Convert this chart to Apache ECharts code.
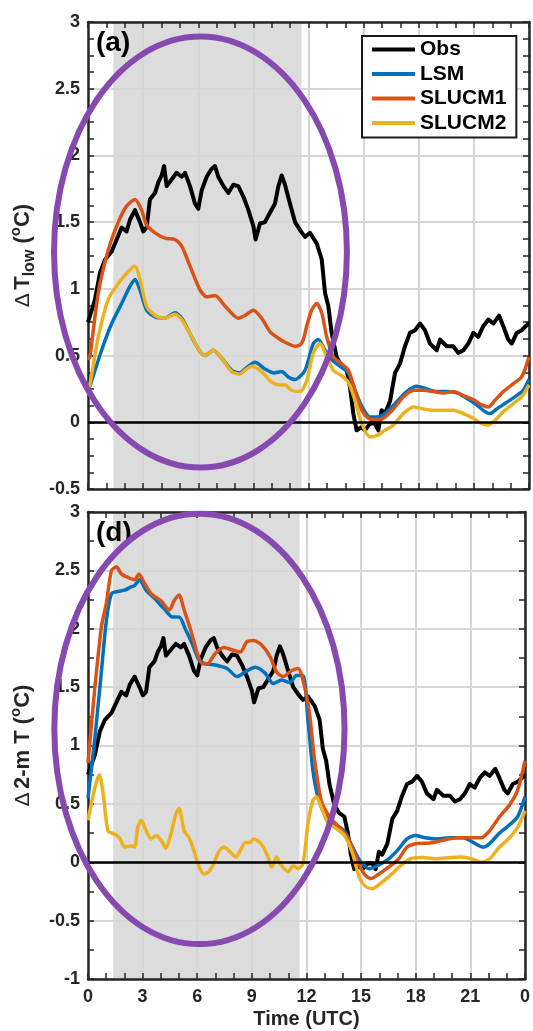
<!DOCTYPE html>
<html>
<head>
<meta charset="utf-8">
<script src="https://cdn.jsdelivr.net/npm/echarts@6/dist/echarts.min.js"></script>
<style>
  html, body { margin: 0; padding: 0; background: #ffffff; }
  #chart { position: absolute; left: 0; top: 0; width: 533px; height: 1031px; }
</style>
</head>
<body>
<div id="chart"></div>
<script>
// Hour-of-day ticks shown under the lower panel (24 h wraps to 0)
const hourTicks = [0, 3, 6, 9, 12, 15, 18, 21, 24];
const seriesNames = ['Obs', 'LSM', 'SLUCM1', 'SLUCM2'];

// Observed urban-rural difference, [hour UTC, °C]
const obs = [[0,0.75],[0.1,0.75],[0.38,0.92],[0.65,1.12],[0.93,1.22],[1.29,1.28],[1.56,1.37],[1.83,1.46],[2.1,1.43],[2.29,1.52],[2.56,1.59],[2.83,1.50],[3.01,1.43],[3.19,1.46],[3.37,1.67],[3.65,1.72],[3.83,1.80],[4.01,1.85],[4.14,1.92],[4.28,1.77],[4.55,1.82],[4.82,1.87],[5.1,1.84],[5.28,1.87],[5.55,1.77],[5.82,1.64],[6.0,1.60],[6.19,1.74],[6.46,1.84],[6.73,1.90],[6.91,1.92],[7.09,1.84],[7.37,1.77],[7.64,1.72],[7.91,1.78],[8.18,1.77],[8.46,1.69],[8.73,1.59],[9.0,1.47],[9.12,1.37],[9.36,1.49],[9.63,1.50],[9.9,1.57],[10.18,1.64],[10.36,1.77],[10.54,1.85],[10.72,1.78],[10.99,1.64],[11.27,1.50],[11.54,1.44],[11.81,1.39],[12.08,1.42],[12.17,1.43],[12.45,1.34],[12.72,1.22],[12.9,0.97],[13.08,0.87],[13.26,0.67],[13.53,0.49],[13.8,0.42],[14.08,0.39],[14.26,0.26],[14.44,0.065],[14.62,-0.06],[14.9,-0.035],[15.07,-0.06],[15.35,-0.01],[15.62,-0.01],[15.8,-0.06],[15.98,0.09],[16.16,0.065],[16.44,0.16],[16.71,0.37],[16.98,0.44],[17.25,0.57],[17.52,0.67],[17.8,0.69],[18.07,0.74],[18.34,0.69],[18.61,0.59],[18.98,0.54],[19.16,0.62],[19.52,0.57],[19.88,0.57],[20.15,0.52],[20.43,0.54],[20.7,0.59],[20.97,0.67],[21.24,0.64],[21.51,0.72],[21.79,0.77],[22.06,0.74],[22.37,0.80],[22.6,0.72],[22.87,0.62],[23.06,0.59],[23.33,0.67],[23.6,0.69],[23.96,0.74],[24,0.74]];

// Panel (a): lowest-model-level temperature difference
const lsmLow = [[0,0.25],[0.1,0.27],[0.74,0.54],[1.29,0.74],[1.83,0.89],[2.29,1.02],[2.56,1.07],[2.83,0.99],[3.19,0.84],[3.65,0.79],[4.19,0.78],[4.73,0.82],[5.1,0.78],[5.64,0.64],[6.1,0.53],[6.37,0.50],[6.82,0.54],[7.28,0.48],[7.82,0.39],[8.27,0.37],[8.54,0.40],[9.09,0.45],[9.63,0.40],[10.09,0.37],[10.54,0.38],[10.9,0.34],[11.27,0.32],[11.72,0.37],[11.9,0.42],[12.26,0.59],[12.53,0.62],[12.9,0.54],[13.26,0.47],[13.71,0.42],[14.17,0.37],[14.53,0.24],[14.9,0.12],[15.35,0.04],[15.71,0.04],[16.16,0.065],[16.71,0.14],[17.34,0.23],[17.89,0.27],[18.43,0.25],[18.98,0.23],[19.52,0.23],[20.07,0.22],[20.61,0.18],[21.15,0.13],[21.6,0.08],[21.88,0.065],[22.24,0.10],[22.79,0.15],[23.33,0.20],[23.69,0.24],[24,0.32]];
const ucm1Low = [[0,0.47],[0.1,0.49],[0.56,0.97],[1.1,1.29],[1.65,1.50],[2.1,1.62],[2.56,1.67],[2.92,1.59],[3.19,1.48],[3.65,1.42],[4.19,1.38],[4.73,1.37],[5.1,1.32],[5.55,1.17],[6.1,0.99],[6.46,0.94],[6.91,0.95],[7.46,0.87],[8.18,0.78],[8.54,0.80],[9.0,0.84],[9.45,0.78],[9.9,0.68],[10.36,0.63],[10.72,0.60],[11.27,0.57],[11.54,0.58],[11.72,0.62],[11.9,0.72],[12.17,0.84],[12.45,0.89],[12.72,0.82],[12.99,0.64],[13.35,0.49],[13.8,0.44],[14.17,0.39],[14.53,0.24],[14.9,0.09],[15.26,0.03],[15.71,0.015],[16.07,0.03],[16.62,0.10],[17.16,0.19],[17.71,0.24],[18.25,0.24],[18.8,0.23],[19.34,0.22],[19.88,0.23],[20.43,0.20],[20.97,0.17],[21.42,0.13],[21.79,0.115],[22.15,0.165],[22.6,0.23],[23.15,0.29],[23.6,0.34],[24,0.49]];
const ucm2Low = [[0,0.25],[0.1,0.28],[0.56,0.64],[1.1,0.92],[1.65,1.04],[2.19,1.13],[2.56,1.17],[2.83,1.07],[3.19,0.87],[3.65,0.80],[4.19,0.78],[4.73,0.81],[5.1,0.77],[5.64,0.64],[6.1,0.53],[6.37,0.50],[6.82,0.54],[7.28,0.48],[7.82,0.38],[8.27,0.36],[8.54,0.39],[8.91,0.42],[9.45,0.38],[10.0,0.30],[10.45,0.28],[10.72,0.28],[11.08,0.24],[11.54,0.23],[11.9,0.31],[12.26,0.52],[12.63,0.59],[12.99,0.49],[13.35,0.39],[13.8,0.35],[14.17,0.30],[14.53,0.165],[14.9,-0.01],[15.35,-0.11],[15.71,-0.10],[16.16,-0.06],[16.62,-0.02],[17.16,0.065],[17.71,0.115],[18.25,0.10],[18.8,0.09],[19.34,0.09],[19.88,0.09],[20.43,0.065],[20.97,0.03],[21.42,-0.01],[21.79,-0.02],[22.15,0.015],[22.6,0.08],[23.15,0.14],[23.6,0.19],[24,0.28]];

// Panel (d): 2-m temperature difference
const lsm2m = [[0,0.55],[0.38,1.07],[0.74,1.64],[1.01,2.07],[1.29,2.30],[1.65,2.32],[2.01,2.33],[2.38,2.36],[2.56,2.37],[2.83,2.42],[3.19,2.33],[3.65,2.26],[4.19,2.17],[4.64,2.10],[5.0,2.10],[5.37,1.99],[5.73,1.87],[6.1,1.73],[6.46,1.70],[7.0,1.69],[7.64,1.66],[8.18,1.59],[8.73,1.64],[9.18,1.67],[9.73,1.62],[10.18,1.53],[10.63,1.56],[11.08,1.54],[11.45,1.60],[11.81,1.60],[12.08,1.22],[12.35,0.79],[12.63,0.56],[12.99,0.42],[13.53,0.33],[14.08,0.27],[14.53,0.13],[14.99,0.0],[15.44,-0.055],[15.89,-0.03],[16.44,0.02],[16.98,0.10],[17.52,0.20],[17.98,0.23],[18.52,0.21],[19.16,0.20],[19.88,0.21],[20.61,0.21],[21.15,0.17],[21.7,0.13],[22.06,0.16],[22.6,0.25],[23.15,0.32],[23.6,0.39],[24,0.56]];
const ucm1_2m = [[0,0.85],[0.38,1.50],[0.74,2.02],[1.01,2.22],[1.29,2.50],[1.56,2.53],[1.83,2.47],[2.19,2.44],[2.56,2.42],[2.8,2.47],[3.1,2.39],[3.47,2.30],[4.01,2.24],[4.46,2.16],[4.73,2.24],[5.0,2.29],[5.28,2.16],[5.64,1.99],[6.0,1.79],[6.28,1.70],[6.55,1.70],[7.0,1.79],[7.46,1.84],[7.91,1.82],[8.36,1.80],[8.73,1.89],[9.09,1.90],[9.54,1.86],[10.0,1.76],[10.36,1.63],[10.72,1.59],[11.17,1.64],[11.54,1.66],[11.9,1.50],[12.17,1.27],[12.45,0.87],[12.81,0.53],[13.26,0.39],[13.8,0.30],[14.26,0.21],[14.71,0.045],[15.17,-0.10],[15.53,-0.14],[15.98,-0.10],[16.53,-0.04],[17.07,0.03],[17.52,0.13],[18.07,0.16],[18.8,0.165],[19.52,0.19],[20.24,0.21],[20.97,0.21],[21.6,0.21],[22.06,0.27],[22.6,0.39],[23.15,0.49],[23.6,0.62],[24,0.87]];
const ucm2_2m = [[0,0.36],[0.38,0.64],[0.62,0.75],[0.83,0.59],[1.1,0.27],[1.47,0.24],[1.74,0.21],[2.01,0.13],[2.38,0.14],[2.56,0.13],[2.74,0.30],[2.92,0.36],[3.19,0.27],[3.47,0.20],[3.74,0.23],[4.01,0.19],[4.28,0.12],[4.55,0.24],[4.82,0.41],[5.0,0.46],[5.28,0.27],[5.55,0.21],[5.82,0.10],[6.1,-0.04],[6.37,-0.10],[6.64,-0.08],[6.91,-0.01],[7.18,0.09],[7.46,0.13],[7.73,0.10],[8.13,0.045],[8.36,0.10],[8.64,0.17],[8.91,0.17],[9.09,0.20],[9.36,0.18],[9.63,0.13],[9.87,0.05],[10.09,-0.04],[10.36,0.045],[10.54,-0.01],[10.99,-0.08],[11.27,-0.03],[11.54,-0.055],[11.81,-0.01],[12.08,0.33],[12.35,0.53],[12.54,0.56],[12.81,0.47],[13.17,0.34],[13.62,0.29],[14.08,0.23],[14.53,0.075],[14.9,-0.13],[15.26,-0.21],[15.62,-0.225],[16.07,-0.18],[16.62,-0.11],[17.16,-0.03],[17.71,0.03],[18.43,0.04],[19.16,0.03],[19.88,0.04],[20.52,0.045],[21.06,0.03],[21.6,0.0],[22.06,0.03],[22.6,0.13],[23.15,0.21],[23.6,0.30],[24,0.44]];

// Daytime shading (hours UTC)
const daylight = [1.38, 11.62];
// Highlight ellipses in data units: centre hour, centre value, half-width (h), half-height (°C)
const ringTop = [6.12, 1.276, 7.97, 1.615];
const ringBottom = [6.12, 1.142, 7.97, 1.843];

const FONT = '"Liberation Sans", Arial, Helvetica, sans-serif';
const INK = '#262626';
const COLORS = { Obs: '#000000', LSM: '#0072BD', SLUCM1: '#D95319', SLUCM2: '#EDB120' };

const chart = echarts.init(document.getElementById('chart'), null, { renderer: 'canvas' });

const tickStyle = { color: INK, width: 1.5 };

function xAxes(gridIndex, showLabels, withName) {
  const common = {
    type: 'value', gridIndex, min: 0, max: 24, interval: 3, z: 2,
    axisLine: { show: true, onZero: false, lineStyle: { color: INK, width: 2.5 } },
    axisTick: { show: true, inside: true, length: 6, lineStyle: tickStyle },
    minorTick: { show: true, splitNumber: 3, length: 6, lineStyle: tickStyle },
  };
  return [
    Object.assign({}, common, {
      position: 'bottom',
      splitLine: { show: true, lineStyle: { color: '#d6d6d6', width: 2 } },
      axisLabel: {
        show: showLabels, margin: 9, color: INK, fontSize: 18, fontWeight: 'bold', fontFamily: FONT,
        formatter: v => hourTicks.includes(v) ? String(v % 24) : ''
      },
      name: withName ? 'Time (UTC)' : '',
      nameLocation: 'middle', nameGap: 30,
      nameTextStyle: { color: INK, fontSize: 20, fontWeight: 'bold', fontFamily: FONT }
    }),
    Object.assign({}, common, {
      position: 'top', splitLine: { show: false }, axisLabel: { show: false }
    })
  ];
}

function yAxes(gridIndex, min, minorSplit, nameRich) {
  const common = {
    type: 'value', gridIndex, min, max: 3, interval: 0.5, z: 2,
    axisLine: { show: true, onZero: false, lineStyle: { color: INK, width: 2.5 } },
    axisTick: { show: true, inside: true, length: 6, lineStyle: tickStyle },
    minorTick: { show: true, splitNumber: minorSplit, length: 6, lineStyle: tickStyle },
  };
  const rich = {
    d: { fontSize: 21, fontWeight: 'normal', fontFamily: FONT, color: INK, lineHeight: 30 },
    b: { fontSize: 22, fontWeight: 'bold', fontFamily: FONT, color: INK, lineHeight: 30 },
    s: { fontSize: 16, fontWeight: 'bold', fontFamily: FONT, color: INK, lineHeight: 15, verticalAlign: 'bottom' },
    p: { fontSize: 15, fontWeight: 'bold', fontFamily: FONT, color: INK, lineHeight: 14, verticalAlign: 'top' }
  };
  return [
    Object.assign({}, common, {
      position: 'left',
      splitLine: { show: true, lineStyle: { color: '#d6d6d6', width: 2 } },
      axisLabel: { show: true, margin: 8, color: INK, fontSize: 18, fontWeight: 'bold', fontFamily: FONT },
      name: nameRich, nameLocation: 'middle', nameRotate: 90, nameGap: 50,
      nameTextStyle: { rich }
    }),
    Object.assign({}, common, {
      position: 'right', splitLine: { show: false }, axisLabel: { show: false }
    })
  ];
}

function panelSeries(xi, yi, data) {
  const out = [];
  // daytime band
  out.push({
    name: 'day' + xi, type: 'line', data: [], xAxisIndex: xi, yAxisIndex: yi, z: 1, silent: true,
    markArea: {
      silent: true, itemStyle: { color: '#dcdcdc' },
      data: [[{ xAxis: daylight[0] }, { xAxis: daylight[1] }]]
    }
  });
  // zero reference line
  out.push({
    name: 'zero' + xi, type: 'line', data: [], xAxisIndex: xi, yAxisIndex: yi, z: 3, silent: true,
    markLine: {
      silent: true, symbol: ['none', 'none'], label: { show: false },
      lineStyle: { color: '#000', width: 2.5, type: 'solid' },
      data: [{ yAxis: 0 }]
    }
  });
  seriesNames.forEach((n, i) => {
    out.push({
      name: n, type: 'line', data: data[i], xAxisIndex: xi, yAxisIndex: yi, z: 4,
      showSymbol: false, symbol: 'none', smooth: n === 'Obs' ? false : 0.25,
      color: COLORS[n],
      lineStyle: { color: COLORS[n], width: n === 'Obs' ? 4 : 3.5, join: 'round' }
    });
  });
  return out;
}

const option = {
  animation: false,
  backgroundColor: '#ffffff',
  grid: [
    { left: 88, top: 22, width: 441, height: 467, containLabel: false },
    { left: 88, top: 512, width: 441, height: 467, containLabel: false }
  ],
  xAxis: [].concat(xAxes(0, false, false), xAxes(1, true, true)),
  yAxis: [].concat(
    yAxes(0, -0.5, 4, '{d|Δ} {b|T}{s|low}{b| (}{p|o}{b|C)}'),
    yAxes(1, -1, 2, '{d|Δ} {b|2-m T (}{p|o}{b|C)}')
  ),
  legend: {
    data: seriesNames, left: 362, top: 36, orient: 'vertical',
    icon: 'rect', itemWidth: 43, itemHeight: 4, itemGap: 3.5,
    padding: [3, 10, 4, 10],
    backgroundColor: '#ffffff', borderColor: '#1a1a1a', borderWidth: 2, borderRadius: 0,
    textStyle: { fontSize: 21, fontWeight: 'bold', color: '#000', fontFamily: FONT },
    z: 10, selectedMode: false
  },
  series: [].concat(
    panelSeries(0, 0, [obs, lsmLow, ucm1Low, ucm2Low]),
    panelSeries(2, 2, [obs, lsm2m, ucm1_2m, ucm2_2m])
  )
};

chart.setOption(option);

function ringShape(gridIndex, ring) {
  const c = chart.convertToPixel({ gridIndex }, [ring[0], ring[1]]);
  const e = chart.convertToPixel({ gridIndex }, [ring[0] + ring[2], ring[1] + ring[3]]);
  return { cx: c[0], cy: c[1], rx: Math.abs(e[0] - c[0]), ry: Math.abs(c[1] - e[1]) };
}

const ringStyle = { fill: 'none', stroke: '#8649b0', lineWidth: 6 };
chart.setOption({
  graphic: [
    { type: 'ellipse', shape: ringShape(0, ringTop), style: ringStyle, z: 100, silent: true },
    { type: 'ellipse', shape: ringShape(1, ringBottom), style: ringStyle, z: 100, silent: true },
    { type: 'text', left: 96, top: 29, z: 20, style: { text: '(a)', font: 'bold 28px ' + FONT, fill: '#000' } },
    { type: 'text', left: 96, top: 519, z: 20, style: { text: '(d)', font: 'bold 28px ' + FONT, fill: '#000' } }
  ]
});
</script>
</body>
</html>
